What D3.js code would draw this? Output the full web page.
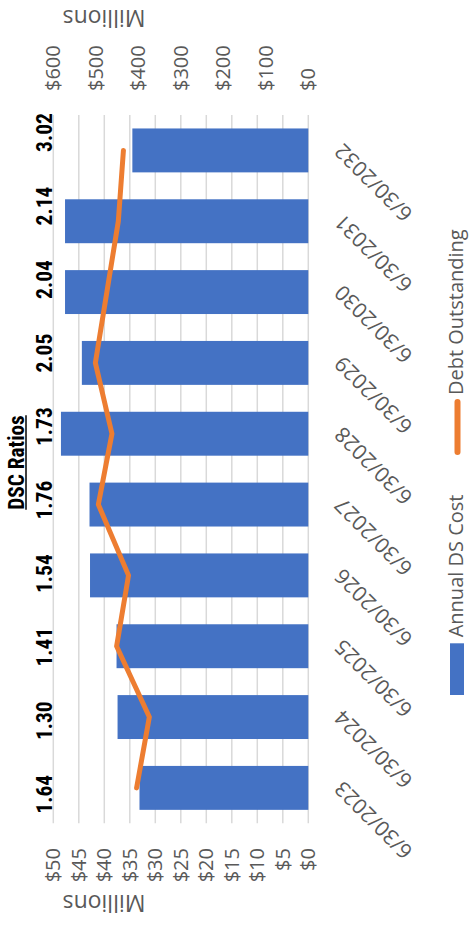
<!DOCTYPE html>
<html lang="en">
<head>
  <meta charset="UTF-8">
  <title>Annual DS Cost and Debt Outstanding</title>
  <script src="https://d3js.org/d3.v7.min.js"></script>
  <style>
    body { margin: 0; background: #fff; }
    text { font-family: "Open Sans", sans-serif; }
  </style>
</head>
<body>
  <svg id="chart" width="476" height="932"></svg>

  <script>
    // data
    const dates = ["6/30/2023", "6/30/2024", "6/30/2025", "6/30/2026", "6/30/2027",
                   "6/30/2028", "6/30/2029", "6/30/2030", "6/30/2031", "6/30/2032"];
    const annualDS = [33.1, 37.4, 37.6, 42.8, 42.9, 48.5, 44.4, 47.7, 47.7, 34.5];
    const debtOut = [404, 374, 451, 423, 494, 462, 501, 474, 447, 435];
    const dscRatios = ["1.64", "1.30", "1.41", "1.54", "1.76", "1.73", "2.05", "2.04", "2.14", "3.02"];
    const leftTicks = [0, 5, 10, 15, 20, 25, 30, 35, 40, 45, 50];
    const rightTicks = [0, 100, 200, 300, 400, 500, 600];

    const W = 932, H = 476; // chart is drawn unrotated, then turned a quarter left
    const plot = { left: 108.7, right: 817, top: 53.3, bottom: 308.3 };

    const svg = d3.select("#chart");
    const g = svg.append("g").attr("transform", `translate(0,${W}) rotate(-90)`);

    const x = d3.scaleBand().domain(dates).range([plot.left, plot.right])
      .paddingInner(0.38).paddingOuter(0.19);
    const yL = d3.scaleLinear().domain([0, 50]).range([plot.bottom, plot.top]);
    const yR = d3.scaleLinear().domain([0, 600]).range([plot.bottom, plot.top]);
    const ratioX = d3.scalePoint().domain(dates).range([137.8, 799.5]);

    const grey = "#595959";

    // gridlines
    g.append("g").selectAll("line").data(leftTicks).join("line")
      .attr("x1", plot.left).attr("x2", plot.right)
      .attr("y1", d => yL(d)).attr("y2", d => yL(d))
      .attr("stroke", "#d9d9d9").attr("stroke-width", 1.5);

    // left axis labels
    g.append("g").selectAll("text").data(leftTicks).join("text")
      .attr("x", plot.left - 24.7).attr("y", d => yL(d)).attr("dy", "0.35em")
      .attr("text-anchor", "end").attr("font-size", 20).attr("fill", grey)
      .text(d => "$" + d);

    // right axis labels
    g.append("g").selectAll("text").data(rightTicks).join("text")
      .attr("x", plot.right + 24).attr("y", d => yR(d)).attr("dy", "0.35em")
      .attr("text-anchor", "start").attr("font-size", 20).attr("fill", grey)
      .text(d => "$" + d);

    // "Millions" unit labels
    g.append("text").attr("transform", "translate(37,104) rotate(-90)")
      .attr("text-anchor", "middle").attr("font-size", 23).attr("fill", grey).text("Millions");
    g.append("text").attr("transform", "translate(922,104) rotate(-90)")
      .attr("text-anchor", "middle").attr("font-size", 23).attr("fill", grey).text("Millions");

    // bars
    g.append("g").selectAll("rect").data(annualDS).join("rect")
      .attr("x", (d, i) => x(dates[i]))
      .attr("width", x.bandwidth())
      .attr("y", d => yL(d))
      .attr("height", d => yL(0) - yL(d))
      .attr("fill", "#4472C4");

    // debt outstanding line
    const line = d3.line()
      .x((d, i) => x(dates[i]) + x.bandwidth() / 2)
      .y(d => yR(d));
    g.append("path").datum(debtOut)
      .attr("d", line)
      .attr("fill", "none").attr("stroke", "#ED7D31").attr("stroke-width", 5)
      .attr("stroke-linejoin", "round").attr("stroke-linecap", "round");

    // category labels
    g.append("g").selectAll("text").data(dates).join("text")
      .attr("transform", d => `translate(${x(d) + x.bandwidth() / 2 + 3},${plot.bottom + 30}) rotate(-45)`)
      .attr("dy", "0.35em")
      .attr("text-anchor", "end").attr("font-size", 21).attr("fill", grey)
      .text(d => d);

    // DSC ratios row
    const boldFont = "'Liberation Sans Narrow', 'Roboto Condensed', 'DejaVu Sans Condensed', Roboto, sans-serif";
    g.append("g").selectAll("text").data(dscRatios).join("text")
      .attr("x", (d, i) => ratioX(dates[i])).attr("y", 51.7)
      .attr("text-anchor", "middle").attr("font-size", 21.5).attr("font-weight", "bold")
      .style("font-family", boldFont).attr("fill", "#000")
      .text(d => d);

    const title = g.append("text").attr("x", 469.5).attr("y", 24)
      .attr("text-anchor", "middle").attr("font-size", 21.3).attr("font-weight", "bold")
      .style("font-family", boldFont).attr("fill", "#000").text("DSC Ratios");
    const tw = title.node().getComputedTextLength();
    g.append("line").attr("x1", 469.5 - tw / 2).attr("x2", 469.5 + tw / 2)
      .attr("y1", 26).attr("y2", 26).attr("stroke", "#000").attr("stroke-width", 1.5);

    // legend
    g.append("rect").attr("x", 237).attr("y", 450).attr("width", 51.7).attr("height", 14)
      .attr("fill", "#4472C4");
    g.append("text").attr("x", 294.7).attr("y", 463).attr("font-size", 20).attr("fill", grey)
      .text("Annual DS Cost");
    g.append("line").attr("x1", 480).attr("x2", 530).attr("y1", 457.5).attr("y2", 457.5)
      .attr("stroke", "#ED7D31").attr("stroke-width", 6).attr("stroke-linecap", "round");
    g.append("text").attr("x", 537).attr("y", 463).attr("font-size", 20).attr("fill", grey)
      .text("Debt Outstanding");
  </script>
</body>
</html>
